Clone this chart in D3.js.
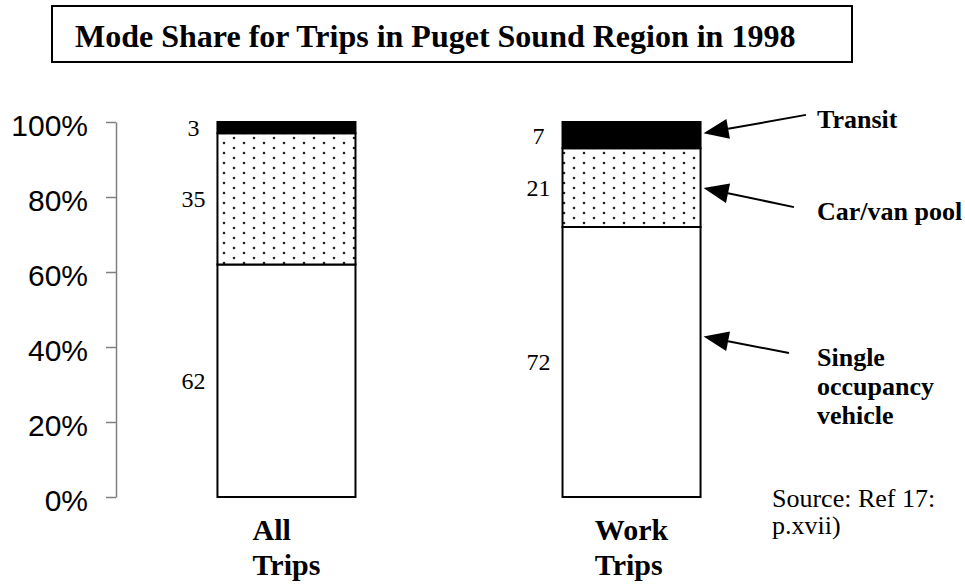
<!DOCTYPE html>
<html>
<head>
<meta charset="utf-8">
<title>Mode Share for Trips in Puget Sound Region in 1998</title>
<script src="https://d3js.org/d3.v7.min.js"></script>
<style>
  body { margin: 0; background: #fff; }
  svg { display: block; }
  .serif { font-family: "Liberation Serif", "Times New Roman", serif; }
  .tick text { font-family: "Liberation Sans", Arial, sans-serif; font-size: 30px; fill: #000; }
</style>
</head>
<body>
<div id="chart"></div>
<script>
// data
var categories = ["All Trips", "Work Trips"];
var catLines = [["All", "Trips"], ["Work", "Trips"]];
var modes = ["sov", "carpool", "transit"];
var sov = [62, 72];
var carpool = [35, 21];
var transit = [3, 7];
var yTicks = [0, 20, 40, 60, 80, 100];

var annoLabels = [["Transit"], ["Car/van pool"], ["Single", "occupancy", "vehicle"]];
var annoTip = [97, 82.4, 42.8];
var annoTail = [101.9, 77.3, 38.4];
var annoTailGap = [11, 23, 28];

var sourceLines = ["Source: Ref 17:", "p.xvii)"];

var W = 965, H = 586;

var svg = d3.select("#chart").append("svg")
  .attr("width", W)
  .attr("height", H);

// dotted fill for car/van pool
var defs = svg.append("defs");
var pat = defs.append("pattern")
  .attr("id", "dots")
  .attr("patternUnits", "userSpaceOnUse")
  .attr("width", 20)
  .attr("height", 10);
pat.append("rect").attr("width", 20).attr("height", 10).attr("fill", "#fff");
pat.append("circle").attr("cx", 4).attr("cy", 3).attr("r", 1.3).attr("fill", "#222");
pat.append("circle").attr("cx", 14).attr("cy", 8).attr("r", 1.3).attr("fill", "#222");

// title box
svg.append("rect")
  .attr("x", 52).attr("y", 6)
  .attr("width", 800).attr("height", 56)
  .attr("fill", "none")
  .attr("stroke", "#000")
  .attr("stroke-width", 2);

svg.append("text")
  .attr("class", "serif")
  .attr("x", 75).attr("y", 47)
  .style("font-size", "32px")
  .style("font-weight", "bold")
  .text("Mode Share for Trips in Puget Sound Region in 1998");

var x = d3.scaleBand()
  .domain(categories)
  .range([116, 802])
  .paddingInner(0.6)
  .paddingOuter(0.294);

var y = d3.scaleLinear()
  .domain([0, 100])
  .range([497, 122]);

// axis
var yAxis = d3.axisLeft(y)
  .tickValues(yTicks)
  .tickFormat(function(d){ return d + "%"; })
  .tickSize(10)
  .tickSizeOuter(0)
  .tickPadding(18);

var ax = svg.append("g")
  .attr("transform", "translate(116,0)")
  .call(yAxis);
ax.select(".domain").attr("stroke", "#808080").attr("stroke-width", 1.5);
ax.selectAll(".tick line").attr("stroke", "#808080").attr("stroke-width", 1.5);
ax.selectAll(".tick text").attr("dy", "0.45em");

// stacked bars
var rows = categories.map(function(c, i){
  return {cat: c, sov: sov[i], carpool: carpool[i], transit: transit[i]};
});
var series = d3.stack().keys(modes)(rows);
var fills = {sov: "#fff", carpool: "url(#dots)", transit: "#000"};

var layers = svg.append("g").selectAll("g")
  .data(series)
  .join("g")
  .attr("fill", function(d){ return fills[d.key]; });

layers.selectAll("rect")
  .data(function(d){ return d; })
  .join("rect")
  .attr("x", function(d){ return x(d.data.cat); })
  .attr("y", function(d){ return y(d[1]); })
  .attr("width", x.bandwidth())
  .attr("height", function(d){ return y(d[0]) - y(d[1]); })
  .attr("stroke", "#000")
  .attr("stroke-width", 2);

// value labels left of each segment
layers.selectAll("text")
  .data(function(d){ return d; })
  .join("text")
  .attr("class", "serif")
  .attr("fill", "#000")
  .attr("x", function(d){ return x(d.data.cat) - 24; })
  .attr("y", function(d){ return y((d[0] + d[1]) / 2); })
  .attr("dy", "0.35em")
  .attr("text-anchor", "middle")
  .style("font-size", "24px")
  .text(function(d){ return d[1] - d[0]; });

// category labels, left-aligned block centred under bar
categories.forEach(function(c, i){
  var t = svg.append("text")
    .attr("class", "serif")
    .style("font-size", "30px")
    .style("font-weight", "bold");
  catLines[i].forEach(function(line, j){
    t.append("tspan").attr("y", 540 + j * 35).text(line);
  });
  var widest = d3.max(t.selectAll("tspan").nodes(), function(n){ return n.getComputedTextLength(); });
  t.selectAll("tspan").attr("x", x(c) + x.bandwidth() / 2 - widest / 2);
});

// annotations with arrows
var barRight = x(categories[1]) + x.bandwidth();
var textX = 817;
annoLabels.forEach(function(lines, i){
  var tipX = barRight + 3, tipY = y(annoTip[i]);
  var tailX = textX - annoTailGap[i], tailY = y(annoTail[i]);
  var ang = Math.atan2(tipY - tailY, tipX - tailX);
  var len = 25, hw = 10;
  var bx = tipX - len * Math.cos(ang), by = tipY - len * Math.sin(ang);
  svg.append("line")
    .attr("x1", tailX).attr("y1", tailY)
    .attr("x2", bx).attr("y2", by)
    .attr("stroke", "#000").attr("stroke-width", 2);
  svg.append("path")
    .attr("d", "M" + tipX + "," + tipY +
      "L" + (bx + hw * Math.sin(ang)) + "," + (by - hw * Math.cos(ang)) +
      "L" + (bx - hw * Math.sin(ang)) + "," + (by + hw * Math.cos(ang)) + "Z")
    .attr("fill", "#000");
  var t = svg.append("text")
    .attr("class", "serif")
    .style("font-size", "26px")
    .style("font-weight", "bold");
  lines.forEach(function(line, j){
    t.append("tspan").attr("x", textX).attr("y", tailY + 13 + j * 29).text(line);
  });
});

// source note
var src = svg.append("text")
  .attr("class", "serif")
  .style("font-size", "26px");
sourceLines.forEach(function(line, j){
  src.append("tspan").attr("x", 772).attr("y", 507 + j * 27).text(line);
});
</script>
</body>
</html>
